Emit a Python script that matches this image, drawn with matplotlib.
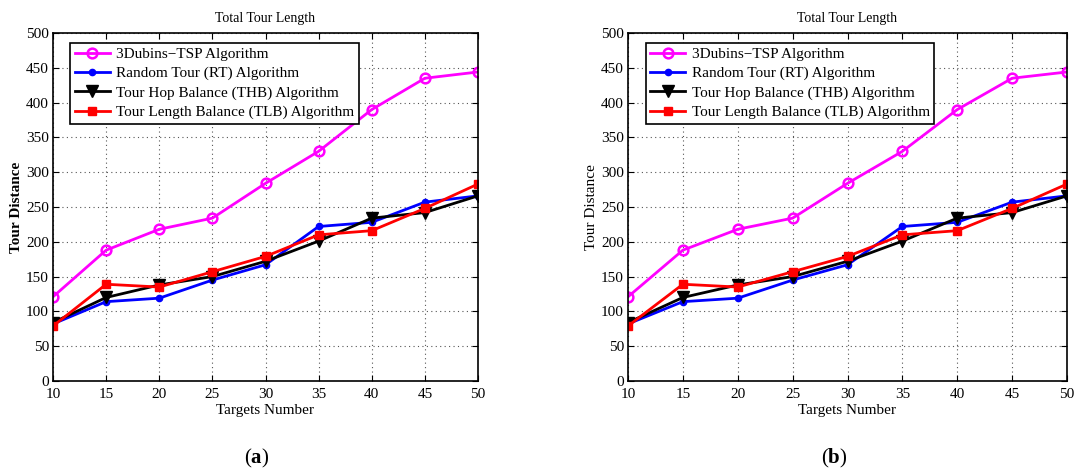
import matplotlib
matplotlib.use("Agg")
import matplotlib.pyplot as plt

plt.rcParams['font.family'] = ['Liberation Serif', 'DejaVu Serif']
plt.rcParams['mathtext.fontset'] = 'custom'
plt.rcParams['mathtext.rm'] = 'Liberation Serif'
plt.rcParams['mathtext.bf'] = 'Liberation Serif:bold'

targets = [10, 15, 20, 25, 30, 35, 40, 45, 50]
dubins = [121, 188, 218, 234, 284, 330, 390, 435, 444]
rt = [82, 114, 119, 145, 167, 222, 228, 257, 266]
thb = [84, 120, 138, 150, 172, 201, 234, 242, 266]
tlb = [79, 139, 135, 157, 179, 210, 216, 248, 283]

labels = ['3Dubins\u2212TSP Algorithm', 'Random Tour (RT) Algorithm',
          'Tour Hop Balance (THB) Algorithm', 'Tour Length Balance (TLB) Algorithm']
yticks = list(range(0, 501, 50))

W, H = 1077, 470
fig = plt.figure(figsize=(W / 100, H / 100), dpi=100)

def px_axes(x0, x1, y0, y1):
    return fig.add_axes([x0 / W, 1 - y1 / H, (x1 - x0) / W, (y1 - y0) / H])

axes = [px_axes(53, 478, 33, 381), px_axes(628, 1067, 33, 381)]
fs = 11

for i, ax in enumerate(axes):
    ax.plot(targets, dubins, color='magenta', lw=2, marker='o', ms=7,
            mfc='none', mew=1.8, label=labels[0])
    ax.plot(targets, rt, color='blue', lw=2, marker='o', ms=4.5, label=labels[1])
    ax.plot(targets, thb, color='black', lw=2, marker='v', ms=8, label=labels[2])
    ax.plot(targets, tlb, color='red', lw=2, marker='s', ms=6, label=labels[3])
    ax.set_xlim(10, 50)
    ax.set_ylim(0, 500)
    ax.set_xticks(targets)
    ax.set_yticks(yticks)
    ax.tick_params(direction='in', top=True, right=True, labelsize=fs, length=4)
    ax.tick_params(axis='x', pad=5)
    ax.tick_params(axis='y', pad=3)
    ax.grid(True, linestyle=(0, (1, 3)), color='#555555', lw=0.8)
    for s in ax.spines.values():
        s.set_linewidth(1.2)
    ax.set_title('Total Tour Length', fontsize=10, pad=8)
    ax.set_xlabel('Targets Number', fontsize=fs, labelpad=2)
    ax.set_ylabel('Tour Distance', fontsize=fs,
                  fontweight='bold' if i == 0 else 'normal', labelpad=2)
    leg = ax.legend(loc='upper left', bbox_to_anchor=(0.03, 0.985), fontsize=11,
                    fancybox=False, framealpha=1, edgecolor='black',
                    handlelength=2.3, borderpad=0.3, labelspacing=0.36,
                    handletextpad=0.4, borderaxespad=0.3)
    leg.get_frame().set_linewidth(1.2)

fig.text(257 / W, 1 - 458 / H, r'($\mathbf{a}$)', fontsize=15, ha='center', va='center')
fig.text(834 / W, 1 - 458 / H, r'($\mathbf{b}$)', fontsize=15, ha='center', va='center')

fig.savefig('out.png', dpi=100)
